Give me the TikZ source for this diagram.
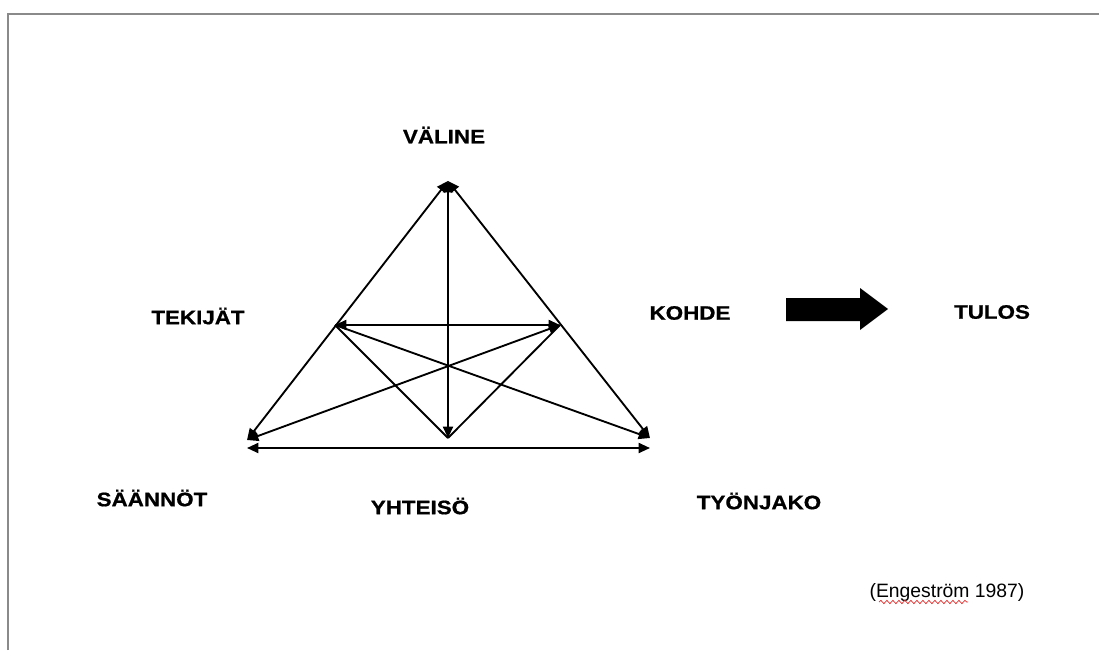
\documentclass[tikz,border=0pt]{standalone}
\usepackage{fontspec}
\setmainfont{Liberation Sans}
\newfontfamily\widesans[FakeStretch=1.15,BoldFeatures={FakeBold=0.8}]{Liberation Sans}
\usetikzlibrary{arrows.meta,decorations.pathmorphing}
\definecolor{framegray}{HTML}{8A8A8A}
\definecolor{spellred}{HTML}{E03535}

\begin{document}
\begin{tikzpicture}[
    x=0.75pt,
    y=-0.75pt,
    font=\widesans\fontsize{14.6}{17}\selectfont\bfseries,
    lbl/.style={inner sep=0pt, anchor=center},
    link/.style={line width=1.4pt, draw=black},
    both/.style={link, {Triangle[length=8.5pt,width=7.5pt]}-{Triangle[length=8.5pt,width=7.5pt]}},
    fwd/.style={link, -{Triangle[length=8.5pt,width=7.5pt]}}
  ]
    \useasboundingbox (0,0) rectangle (1099,650);
    % page edge
    \draw[framegray, line width=1.5pt] (8,650) -- (8,14) -- (1099,14);

    % corners of the triangle
    \coordinate (tool) at (448,181);
    \coordinate (subj) at (335,325);
    \coordinate (obj) at (560,325);
    \coordinate (rules) at (247,440);
    \coordinate (comm) at (448,438);
    \coordinate (divi) at (650,438);
    \coordinate (rulesb) at (247,448);
    \coordinate (divib) at (650,448);

    % labels
    \node[lbl] (valine) at (444,135) {VÄLINE};
    \node[lbl] (tekijat) at (198,316) {TEKIJÄT};
    \node[lbl] (kohde) at (690,313) {KOHDE};
    \node[lbl] (tulos) at (992,312) {TULOS};
    \node[lbl] (saannot) at (152,498) {SÄÄNNÖT};
    \node[lbl] (yhteiso) at (420,506) {YHTEISÖ};
    \node[lbl] (tyonjako) at (759,501) {TYÖNJAKO};
    \node[lbl, font=\fontsize{14.5}{16}\selectfont] (cite) at (947,592) {(Engeström 1987)};
    \draw[spellred, line width=0.6pt, decorate, decoration={snake, amplitude=1.2pt, segment length=4.5pt}] (879,602) -- (968,602);

    % outer sides and base
    \draw[both] (tool) -- (rules);
    \draw[both] (tool) -- (divi);
    \draw[both] (rulesb) -- (divib);
    \draw[both] (tool) -- (comm);
    \draw[both] (subj) -- (obj);

    % inner links
    \draw[both] (rules) -- (obj);
    \draw[fwd] (subj) -- (divi);
    \draw[link] (subj) -- (comm);
    \draw[link] (obj) -- (comm);

    % towards the outcome
    \fill (786,298) -- (860,298) -- (860,288) -- (888,309) -- (860,330) -- (860,321) -- (786,321) -- cycle;
  \end{tikzpicture}
\end{document}
